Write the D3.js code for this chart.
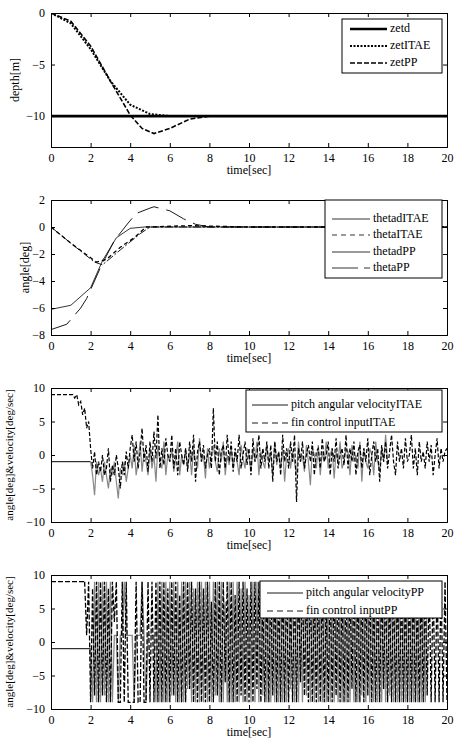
<!DOCTYPE html>
<html>
<head>
<meta charset="utf-8">
<script src="https://cdn.jsdelivr.net/npm/d3@7"></script>
<style>
  body { margin: 0; background: #fff; }
  svg text { font-family: "Liberation Serif", "Times New Roman", "DejaVu Serif", serif !important; }
</style>
</head>
<body>
<div id="chart"></div>
<script>
// ---- panel 1: depth ----
const zetT = [0, 1, 2, 3, 4, 5, 6, 7, 8, 20];
const zetd = [-10, -10, -10, -10, -10, -10, -10, -10, -10, -10];
const zetITAE = [0, -1, -3.5, -6.6, -8.9, -9.8, -10, -10, -10, -10];
const zetPPT = [0, 1, 2, 3, 4, 4.6, 5.2, 6, 7, 8, 20];
const zetPP = [0, -0.8, -3.2, -6.6, -9.9, -11.2, -11.7, -11.2, -10.3, -10, -10];

// ---- panel 2: angle ----
const thetadITAET = [0, 1, 2.2, 2.6, 3.5, 4.5, 5, 20];
const thetadITAE = [0, -1.2, -2.6, -2.8, -1.7, -0.5, 0, 0];
const thetaITAET = [0, 1, 2.3, 2.8, 3.5, 4.2, 4.8, 7, 10, 20];
const thetaITAE = [0, -1.2, -2.6, -2.4, -1.5, -0.8, 0, 0.1, 0, 0];
const thetadPPT = [0, 1, 2, 2.6, 3.3, 4, 4.7, 20];
const thetadPP = [-6.1, -5.8, -4.5, -2.5, -0.8, -0.1, 0, 0];
const thetaPPT = [0, 0.8, 1.5, 1.8, 2.5, 3.2, 3.9, 4.3, 5, 5.2, 6, 6.7, 7.3, 8, 20];
const thetaPP = [-7.6, -7.2, -6, -5.3, -3, -1, 0.3, 1, 1.4, 1.5, 1.2, 0.6, 0.2, 0, 0];

// ---- panel 3: ITAE velocity / fin input (step 0.1 s) ----
const fin3 = [9, 9, 9, 9, 9, 9, 9, 9, 9, 9, 9, 9,
  8.5, 9, 7.5, 8, 6, 7, 4, 5,
  1, -2, 0.5, -3, -1, -2.5, 0, -3, -2, 1, -4, -1.5, -3, 0, -2, -5, -1, -3, 0.5, -2, 1,
  3, -1, 2, -2, 0.5, 4, -1, 1.5, -2.5,
  2, -1, 3.5, -0.5, 6, -2, 1, -1.5, 2.5, 0,
  -1, 3, -2, 1, -3, 2, 0, -1.5, 1, -2.5,
  2, -1, 3, -4, 0.5, 2, -1, 1.5, -2, 0,
  1, -2, 7, -1, 2, -3, 0.5, 1.5, -2, 3,
  -1, 2, -2.5, 1, -1, 3, -2, 0, 2, -1.5,
  1, -3, 2.5, -1, 0, 3, -2, 1, -1, 2,
  -2, 1.5, -4, 2, -1, 0.5, -3, 3, -1, 1,
  -2, 2, -1, 3, -7, 1, -1, 2, -2, 0,
  1.5, -1, 2, -3, 0.5, 1, -2, 2.5, -1, 0,
  2, -3, 1, -1, 2.5, -2, 0, 1, -1.5, 3,
  -2, 1, -1, 2, -3, 0.5, 1.5, -2, 1, -1,
  2.5, -3, 0, 2, -1, 1, -4, 1.5, -1, 2,
  -2, 0.5, 3, -1, -3, 2, -1, 1, -2, 2.5,
  -1, 0, 3, -2, 1, -3, 2, -1, 0.5, -2,
  2, -1, 1.5, -3, 0, 2.5, -2, 1, -1, 0.5, 1];
const pitch3T0 = [0, 2];
const pitch3V0 = [-1, -1];
const pitch3 = [-1, -3, -6, -1, -3, -2, -4, -1, -3, -5, -2, -3, -1, -4, -6.5, -2, -3, -1, -4, -2,
  0, -2, 1.5, -3, -1, 2, -2.5, 0.5, -1, -3,
  1, -2, 0, -4, 1.5, -1, -2, 2, -3, 0,
  -1, 1, -2.5, -0.5, 2, -3, 0, -1.5, 1, -2,
  0.5, -3, 1, -1, -2, 2.5, -1, 0, -3.5, 1,
  -2, 0, 1.5, -1, -2.5, 1, -1, 2, -3, 0,
  -1.5, 1, -2, 0.5, -1, -3, 1.5, -0.5, -2, 1,
  0, -2.5, 1, -1, 2, -3, 0.5, -1, -2, 1.5,
  -1, 0, -3, 2, -1.5, 0.5, -2, 1, -4, 0,
  1, -2, 0.5, -1, -3, 2, -1, 0, -2.5, 1.5,
  -1, -4.5, 1, 0, -2, 1.5, -3, 0.5, -1, 2,
  -2, 0, 1, -3.5, 0.5, -1, 2, -2, -1, 1,
  0.5, -3, 1.5, -1, 0, -2, 2, -4, 1, -1,
  -2, 1, 0, -3, 2, -1, -2.5, 1, -1, 3, -1];

// ---- panel 4: PP velocity / fin input (step 0.1 s) ----
const fin4T0 = [0, 1.7];
const fin4V0 = [9, 9];
const fin4 = [9, 1, 9, -9, 8, -8, 9, -9, 9, -8,
  9, -9, 8, -9, 9, 3, 9, -9, -9, 9,
  -9, 9, -9, -9, -9, -9, 9, -9, -9, 9,
  -9, -9, 9, -9, 9, -9, 9, -9, 9, -9,
  9, -9, 8, -9, 9, -8, 9, -9, 7, -9,
  9, -9, 9, -7, 9, -9, 8, -9, 9, -9,
  8, -9, 9, -9, 6, -9, 9, -8, 9, -9,
  9, -6, 9, -9, 9, -9, 7, -9, 9, -8,
  9, -9, 8, -9, 9, -9, 9, -7, 9, -9,
  7, -9, 9, -9, 9, -8, 9, -9, 8, -9,
  9, -9, 9, -9, 7, -9, 9, -9, 9, -6,
  9, -8, 9, -9, 9, -9, 8, -9, 9, -9,
  9, -9, 6, -9, 9, -9, 9, -8, 9, -9,
  8, -9, 9, -9, 9, -7, 9, -9, 9, -9,
  9, -9, 9, -8, 9, -9, 7, -9, 9, -9,
  9, -7, 9, -9, 8, -9, 9, -9, 9, -9,
  9, -9, 8, -9, 9, -9, 9, -9, 7, -9,
  9, -9, 9, -8, 9, -9, 9, -9, 9, -9, 9, -9, 9, -9];
const pitch4T0 = [0, 2];
const pitch4V0 = [-1, -1];
const pitch4 = [-1, -9, 9, -9, 9, -9, 9, -8, 9, -9,
  9, -9, 1, 1, -9, 1, 1, 9, 1, 1,
  1, 1, -9, 1, 1, 1, 9, 1, -9, 1,
  1, 1, 1, -9, 9, -9, 9, -9, 9, -9,
  9, -8, 9, -9, 9, -9, 9, -9, 9, -7,
  9, -9, 8, -9, 9, -9, 9, -9, 9, -9,
  9, -9, 9, -8, 9, -9, 9, -9, 6, -9,
  9, -9, 9, -9, 9, -9, 8, -9, 9, -9,
  7, -9, 9, -9, 9, -9, 9, -8, 9, -9,
  9, -9, 9, -9, 8, -9, 9, -9, 9, -9,
  9, -7, 9, -9, 9, -9, 9, -9, 9, -8,
  9, -9, 8, -9, 9, -9, 9, -9, 9, -9,
  9, -9, 9, -9, 7, -9, 9, -9, 9, -9,
  8, -9, 9, -9, 9, -9, 9, -8, 9, -9,
  9, -9, 9, -9, 9, -9, 8, -9, 9, -9,
  9, -8, 9, -9, 9, -9, 9, -9, 7, -9,
  9, -9, 9, -9, 9, -9, 9, -9, 9, -9, 9];

const xTicks = d3.range(0, 21, 2);

const W = 461, H = 747;
const left = 51, right = 447;
const FONT = '"Liberation Serif", "Times New Roman", "DejaVu Serif", serif';
const svg = d3.select("#chart").append("svg").attr("width", W).attr("height", H)
  .attr("font-family", FONT);

// turn (t0, step, values) into points
const stepped = (t0, step, vals) => vals.map((v, i) => [t0 + i * step, v]).filter(p => p[0] <= 20.001);
const paired = (ts, vs) => ts.map((t, i) => [t, vs[i]]);

const panels = [
  { top: 13, bottom: 147, dom: [-13, 0], ticks: [-10, -5, 0], ylabel: "depth[m]", lx: 16, lsize: 12,
    series: [
      { pts: paired(zetT, zetd), color: "#000", w: 2.6 },
      { pts: paired(zetITAE.map((_, i) => zetT[i]), zetITAE), color: "#000", w: 2, dash: "2,1.5" },
      { pts: paired(zetPPT, zetPP), color: "#000", w: 1.6, dash: "5,2" }
    ],
    legend: { x: 342, y: 19, w: 100, h: 54, l1: 350, l2: 387, tx: 390, rows: [29, 46, 63],
      items: [["zetd", "#000", 2.6, null], ["zetITAE", "#000", 2.2, "2,1.5"], ["zetPP", "#000", 1.4, "5,2"]] } },
  { top: 200, bottom: 335, dom: [-8, 2], ticks: d3.range(-8, 3, 2), ylabel: "angle[deg]", lx: 26, lsize: 12,
    series: [
      { pts: paired(thetadITAET, thetadITAE), color: "#000", w: 0.9, dash: "8,2,2,2" },
      { pts: paired(thetaITAET, thetaITAE), color: "#000", w: 1.3, dash: "4,3" },
      { pts: paired(thetadPPT, thetadPP), color: "#000", w: 0.8 },
      { pts: paired(thetaPPT, thetaPP), color: "#000", w: 0.9, dash: "22,8" }
    ],
    legend: { x: 325, y: 200, w: 117, h: 78, l1: 332, l2: 370, tx: 373, rows: [219, 235, 252, 268],
      items: [["thetadITAE", "#000", 0.8, null], ["thetaITAE", "#000", 0.8, "5,4"], ["thetadPP", "#000", 0.8, null], ["thetaPP", "#000", 0.8, "26,6"]] } },
  { top: 388, bottom: 522, dom: [-10, 10], ticks: [-10, -5, 0, 5, 10], ylabel: "angle[deg]&velocity[deg/sec]", lx: 10, lsize: 11,
    series: [
      { pts: paired(pitch3T0, pitch3V0), color: "#000", w: 1 },
      { pts: stepped(2, 0.1, pitch3), color: "#888", w: 1.2 },
      { pts: stepped(0, 0.1, fin3), color: "#000", w: 1.2, dash: "4,2" }
    ],
    legend: { x: 246, y: 390, w: 196, h: 42, l1: 252, l2: 288, tx: 291, rows: [405, 423],
      items: [["pitch angular velocityITAE", "#000", 0.9, null], ["fin control inputITAE", "#000", 0.9, "6,4"]] } },
  { top: 575, bottom: 709, dom: [-10, 10], ticks: [-10, -5, 0, 5, 10], ylabel: "angle[deg]&velocity[deg/sec]", lx: 10, lsize: 11,
    series: [
      { pts: paired(pitch4T0, pitch4V0), color: "#000", w: 1 },
      { pts: stepped(2, 0.1, pitch4), color: "#888", w: 1.3 },
      { pts: paired(fin4T0, fin4V0), color: "#000", w: 1.2, dash: "5,2" },
      { pts: stepped(1.7, 0.1, fin4), color: "#000", w: 1.3, dash: "5,2" }
    ],
    legend: { x: 260, y: 581, w: 182, h: 37, l1: 267, l2: 303, tx: 306, rows: [593, 611],
      items: [["pitch angular velocityPP", "#000", 0.9, null], ["fin control inputPP", "#000", 0.9, "6,4"]] } }
];

const x = d3.scaleLinear().domain([0, 20]).range([left, right]);

panels.forEach((p, k) => {
  const y = d3.scaleLinear().domain(p.dom).range([p.bottom, p.top]);
  const g = svg.append("g");
  const clipId = "clip" + k;
  svg.append("clipPath").attr("id", clipId).append("rect")
    .attr("x", left).attr("y", p.top).attr("width", right - left).attr("height", p.bottom - p.top);

  const line = d3.line().x(d => x(d[0])).y(d => y(d[1]));
  p.series.forEach(s => {
    g.append("path").datum(s.pts)
      .attr("clip-path", `url(#${clipId})`)
      .attr("fill", "none").attr("stroke", s.color).attr("stroke-width", s.w)
      .attr("stroke-dasharray", s.dash || null)
      .attr("d", line);
  });

  // axes, ticks pointing inward like matlab
  const fixFont = a => a.attr("font-family", FONT).attr("font-size", 12);
  g.append("g").attr("transform", `translate(0,${p.bottom})`)
    .call(d3.axisBottom(x).tickValues(xTicks).tickSize(-4).tickPadding(6)).call(fixFont);
  g.append("g").attr("transform", `translate(0,${p.top})`)
    .call(d3.axisTop(x).tickValues(xTicks).tickSize(-4).tickFormat(""));
  g.append("g").attr("transform", `translate(${left},0)`)
    .call(d3.axisLeft(y).tickValues(p.ticks).tickSize(-4).tickPadding(6)).call(fixFont);
  g.append("g").attr("transform", `translate(${right},0)`)
    .call(d3.axisRight(y).tickValues(p.ticks).tickSize(-4).tickFormat(""));
  g.selectAll(".domain").attr("stroke", "#000");

  g.append("text").attr("x", (left + right) / 2).attr("y", p.bottom + 27)
    .attr("text-anchor", "middle").attr("font-size", "12px").text("time[sec]");
  g.append("text").attr("transform", `translate(${p.lx},${(p.top + p.bottom) / 2}) rotate(-90)`)
    .attr("text-anchor", "middle").attr("dominant-baseline", "middle")
    .attr("font-size", p.lsize + "px").text(p.ylabel);

  // legend
  const L = p.legend;
  g.append("rect").attr("x", L.x).attr("y", L.y).attr("width", L.w).attr("height", L.h)
    .attr("fill", "#fff").attr("stroke", "#000").attr("stroke-width", 1);
  L.items.forEach((it, i) => {
    g.append("line").attr("x1", L.l1).attr("x2", L.l2).attr("y1", L.rows[i]).attr("y2", L.rows[i])
      .attr("stroke", it[1]).attr("stroke-width", it[2]).attr("stroke-dasharray", it[3]);
    g.append("text").attr("x", L.tx).attr("y", L.rows[i]).attr("dominant-baseline", "middle")
      .attr("font-size", "12px").text(it[0]);
  });
});
</script>
</body>
</html>
